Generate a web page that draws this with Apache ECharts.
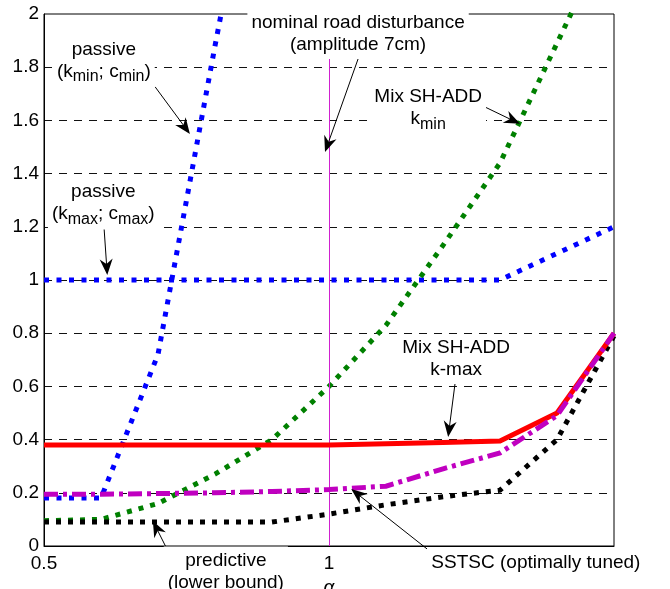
<!DOCTYPE html>
<html>
<head>
<meta charset="utf-8">
<style>
  html, body { margin: 0; padding: 0; background: #fff; }
  #chart { width: 670px; height: 589px; }
</style>
<script src="https://cdn.jsdelivr.net/npm/echarts@6/dist/echarts.min.js"></script>
</head>
<body>
<div id="chart"></div>
<script>
(function () {
    // alpha values on the x axis
    var alpha = [0.5, 0.6, 0.7, 0.8, 0.9, 1.0, 1.1, 1.2, 1.3, 1.4, 1.5];

    // series values, one per alpha (null = not drawn)
    var passiveMin = [0.18, 0.18, 0.72, 1.88, 3.0, null, null, null, null, null, null];
    var passiveMax = [1.0, 1.0, 1.0, 1.0, 1.0, 1.0, 1.0, 1.0, 1.0, 1.1, 1.2];
    var mixKmin    = [0.095, 0.1, 0.16, 0.27, 0.40, 0.60, 0.83, 1.13, 1.44, 1.89, 2.34];
    var predictive = [0.09, 0.09, 0.09, 0.09, 0.09, 0.12, 0.155, 0.185, 0.21, 0.40, 0.79];
    var mixKmax    = [0.38, 0.38, 0.38, 0.38, 0.38, 0.38, 0.384, 0.389, 0.395, 0.50, 0.80];
    var sstsc      = [0.195, 0.195, 0.197, 0.20, 0.205, 0.212, 0.225, 0.29, 0.35, 0.49, 0.80];

    var nominalAlpha = 1;
    var yTicks = { min: 0, max: 2, step: 0.2 };
    var xTicks = { min: 0.5, max: 1.5, step: 0.5, hidden: [1.5] };

    var FONT = '"Liberation Sans", Arial, Helvetica, sans-serif';

    function pairs(vals) {
        var out = [];
        for (var i = 0; i < alpha.length; i++) {
            if (vals[i] !== null) out.push([alpha[i], vals[i]]);
        }
        return out;
    }

    function lineSeries(name, vals, color, width, dash, z) {
        return {
            name: name,
            type: 'line',
            data: pairs(vals),
            symbol: 'none',
            showSymbol: false,
            clip: true,
            z: z,
            lineStyle: { color: color, width: width, type: dash, cap: 'butt', join: 'miter' }
        };
    }

    var dom = document.getElementById('chart');
    var myChart = echarts.init(dom);

    var option = {
        animation: false,
        grid: {
            left: 44, right: 56, top: 14, bottom: 43,
            containLabel: false, outerBoundsMode: 'none',
            show: true, borderColor: '#000', borderWidth: 1, backgroundColor: 'transparent'
        },
        xAxis: {
            type: 'value',
            min: xTicks.min, max: xTicks.max, interval: xTicks.step,
            name: 'α',
            nameLocation: 'middle',
            nameGap: 30,
            nameTextStyle: { fontFamily: FONT, fontSize: 19, fontStyle: 'italic', color: '#000' },
            axisLine: { show: true, lineStyle: { color: '#000', width: 1 } },
            axisTick: { show: false },
            splitLine: { show: false },
            axisLabel: {
                fontFamily: FONT, fontSize: 19, color: '#000', margin: 8,
                formatter: function (v) { return xTicks.hidden.indexOf(v) >= 0 ? '' : String(v); }
            }
        },
        yAxis: {
            type: 'value',
            min: yTicks.min, max: yTicks.max, interval: yTicks.step,
            axisLine: { show: true, lineStyle: { color: '#000', width: 1 } },
            axisTick: { show: false },
            axisLabel: { fontFamily: FONT, fontSize: 19, color: '#000', margin: 5 },
            splitLine: {
                show: true, showMinLine: false, showMaxLine: false,
                lineStyle: { color: '#111', width: 1, type: [8, 7] }
            }
        },
        series: [
            {
                name: 'nominal',
                type: 'line',
                data: [],
                markLine: {
                    silent: true,
                    symbol: ['none', 'none'],
                    label: { show: false },
                    lineStyle: { color: '#d020d0', width: 1, type: 'solid' },
                    emphasis: { disabled: true },
                    data: [{ xAxis: nominalAlpha }]
                }
            },
            lineSeries('passive kmax', passiveMax, '#0000ff', 5, [5, 7.5], 3),
            lineSeries('passive kmin', passiveMin, '#0000ff', 5, [5, 7.5], 3),
            lineSeries('Mix SH-ADD kmin', mixKmin, '#008000', 5, [5, 7], 4),
            lineSeries('predictive', predictive, '#000000', 5, [5, 7], 5),
            lineSeries('Mix SH-ADD k-max', mixKmax, '#ff0000', 5, 'solid', 6),
            lineSeries('SSTSC', sstsc, '#c000c0', 5, [14, 5, 4, 5], 7)
        ]
    };
    myChart.setOption(option);

    // 标注 (text in data coords, arrow from -> to)
    var notes = [
        { text: '{n|passive}\n{n|(k}{s|min}{n|; c}{s|min}{n|)}', at: [0.605, 1.820], from: [0.695, 1.726], to: [0.756, 1.549] },
        { text: '{n|passive}\n{n|(k}{s|max}{n|; c}{s|max}{n|)}', at: [0.604, 1.284], from: [0.605, 1.207], to: [0.611, 1.019] },
        { text: 'nominal road disturbance\n(amplitude 7cm)', at: [1.051, 1.925], from: [1.051, 1.831], to: [0.993, 1.481] },
        { text: '{n|Mix SH-ADD}\n{n|k}{s|min}', at: [1.174, 1.641], from: [1.274, 1.650], to: [1.335, 1.587] },
        { text: 'Mix SH-ADD\nk-max', at: [1.223, 0.703], from: [1.221, 0.609], to: [1.209, 0.410] },
        { text: 'predictive\n(lower bound)', at: [0.819, -0.096], from: [0.714, -0.004], to: [0.691, 0.094] },
        { text: 'SSTSC (optimally tuned)', at: [1.363, -0.064], from: [1.172, -0.011], to: [1.039, 0.214] }
    ];

    function head(p0, p1) {
        var dx = p1[0] - p0[0], dy = p1[1] - p0[1];
        var len = Math.sqrt(dx * dx + dy * dy);
        var ux = dx / len, uy = dy / len, nx = -uy, ny = ux;
        var L = 16, W = 6.5, N = 11;
        return [
            [p1[0], p1[1]],
            [p1[0] - ux * L + nx * W, p1[1] - uy * L + ny * W],
            [p1[0] - ux * N, p1[1] - uy * N],
            [p1[0] - ux * L - nx * W, p1[1] - uy * L - ny * W]
        ];
    }

    var graphic = [];
    notes.forEach(function (n) {
        var c = myChart.convertToPixel({ gridIndex: 0 }, n.at);
        var a = myChart.convertToPixel({ gridIndex: 0 }, n.from);
        var b = myChart.convertToPixel({ gridIndex: 0 }, n.to);
        var pts = head(a, b);
        graphic.push({
            type: 'line', z: 100, silent: true,
            shape: { x1: a[0], y1: a[1], x2: pts[2][0], y2: pts[2][1] },
            style: { stroke: '#000', lineWidth: 1 }
        });
        graphic.push({
            type: 'polygon', z: 100, silent: true,
            shape: { points: pts },
            style: { fill: '#000' }
        });
        graphic.push({
            type: 'text', z: 101, silent: true,
            x: c[0], y: c[1],
            style: {
                text: n.text,
                fontFamily: FONT, fontSize: 19, lineHeight: 22,
                fill: '#000',
                align: 'center', verticalAlign: 'middle',
                backgroundColor: '#fff',
                padding: [3, 4, 3, 4],
                rich: {
                    n: { fontFamily: FONT, fontSize: 19, lineHeight: 22, verticalAlign: 'top', fill: '#000' },
                    s: { fontFamily: FONT, fontSize: 16, lineHeight: 22, verticalAlign: 'top', padding: [7, 0, 0, 0], fill: '#000' }
                }
            }
        });
    });
    myChart.setOption({ graphic: graphic });
})();
</script>
</body>
</html>
